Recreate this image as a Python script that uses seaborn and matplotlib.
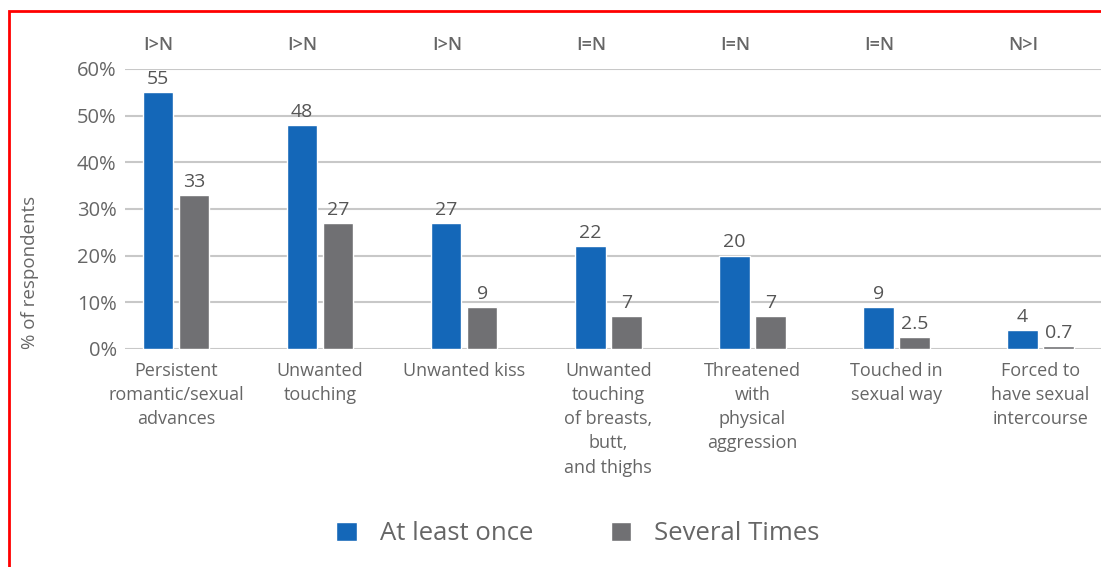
import matplotlib
matplotlib.use("Agg")
import matplotlib.pyplot as plt
import matplotlib.patches as mpatches
import matplotlib.transforms as mtransforms
import pandas as pd
import seaborn as sns

categories = [
    "Persistent\nromantic/sexual\nadvances",
    "Unwanted\ntouching",
    "Unwanted kiss",
    "Unwanted\ntouching\nof breasts,\nbutt,\nand thighs",
    "Threatened\nwith\nphysical\naggression",
    "Touched in\nsexual way",
    "Forced to\nhave sexual\nintercourse",
]
at_least_once = [55, 48, 27, 22, 20, 9, 4]
several_times = [33, 27, 9, 7, 7, 2.5, 0.7]
comparison = ["I>N", "I>N", "I>N", "I=N", "I=N", "I=N", "N>I"]
series_names = ["At least once", "Several Times"]

BLUE = "#1467b8"
GREY = "#707073"
TEXT = "#666666"

df = pd.DataFrame({
    "category": categories * 2,
    "series": [series_names[0]] * len(categories) + [series_names[1]] * len(categories),
    "value": at_least_once + several_times,
})

sns.set_theme(style="white")
plt.rcParams["font.family"] = ["Open Sans", "DejaVu Sans"]

fig = plt.figure(figsize=(11.01, 5.67), dpi=100)
ax = fig.add_axes([125 / 1101, 1 - 349 / 567, 1 - 125 / 1101, 280 / 567])

sns.barplot(data=df, x="category", y="value", hue="series",
            palette=[BLUE, GREY], saturation=1, width=0.5, gap=0.15, ax=ax,
            order=categories, hue_order=series_names)

handles, labels = ax.get_legend_handles_labels()
ax.legend_.remove()

for cont in ax.containers:
    ax.bar_label(cont, fmt=lambda v: f"{v:g}", padding=3,
                 fontsize=14, color="#555555")

ax.set_ylim(0, 60)
ax.set_xlim(-0.354, 6.42)
ax.set_yticks(range(0, 61, 10))
ax.set_yticklabels([f"{t}%" for t in range(0, 61, 10)])
ax.yaxis.grid(True, color="#c8c8c8", linewidth=1.5)
ax.set_axisbelow(True)
for s in ax.spines.values():
    s.set_visible(False)
ax.axhline(0, color="#b0b0b0", linewidth=2, zorder=0.5)
ax.tick_params(axis="y", length=0, pad=6, labelsize=14.5, labelcolor=TEXT)
ax.tick_params(axis="x", length=0, pad=9, labelsize=13, labelcolor=TEXT)
for lab in ax.get_xticklabels():
    lab.set_linespacing(1.45)
ax.set_xlabel("")
ax.set_ylabel("% of respondents", fontsize=13.5, color=TEXT)
ax.yaxis.set_label_coords(-0.088, 0.275)

trans = mtransforms.blended_transform_factory(ax.transData, ax.transAxes)
for i, c in enumerate(comparison):
    ax.text(i - 0.12, 1 + 24 / 280, c, transform=trans, ha="center", va="center",
            fontsize=13, color=TEXT, fontweight="semibold")

fig.legend(handles, labels, loc="center", bbox_to_anchor=(0.525, 1 - 534 / 567),
           ncol=2, frameon=False, fontsize=18.5, labelcolor=TEXT,
           handlelength=0.8, handleheight=0.8, handletextpad=0.9,
           columnspacing=3.0)

fig.patches.append(mpatches.Rectangle((9 / 1101, -0.1), 1.2, 0.1 + 1 - 11 / 567,
                                      transform=fig.transFigure, fill=False,
                                      edgecolor="red", linewidth=2))

fig.savefig("out.png", dpi=100)
